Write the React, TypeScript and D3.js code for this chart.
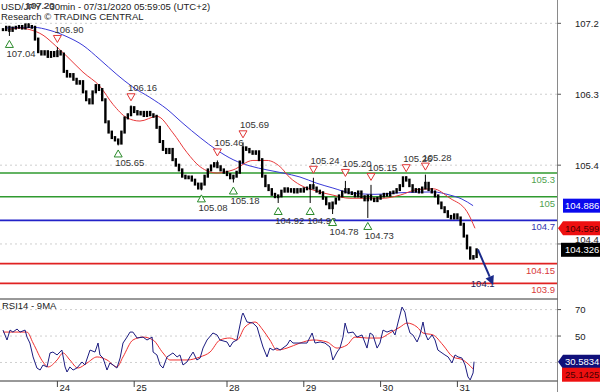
import React from "react";
import * as d3 from "d3";

// hourly closes (two 30min bars each)
const closes = [
  107.12, 107.15, 107.11, 107.14, 107.15, 107.16, 107.14, 107.18, 107.16, 107.15,
  107.0, 106.84, 106.81, 106.84, 106.78, 106.83, 106.79, 106.84, 106.81, 106.59,
  106.53, 106.55, 106.49, 106.44, 106.46, 106.33, 106.23, 106.19, 106.33, 106.41,
  106.36, 106.23, 105.95, 105.82, 105.75, 105.72, 105.68, 105.82, 106.0, 106.04,
  106.13, 106.08, 106.05, 106.07, 106.03, 106.07, 106.04, 106.02, 105.88, 105.7,
  105.6, 105.56, 105.6, 105.47, 105.4, 105.34, 105.26, 105.24, 105.25, 105.21,
  105.16, 105.11, 105.16, 105.26, 105.34, 105.39, 105.42, 105.38, 105.34, 105.31,
  105.28, 105.24, 105.26, 105.31, 105.44, 105.62, 105.6, 105.57, 105.55, 105.57,
  105.47, 105.26, 105.14, 105.09, 105.03, 105.0, 105.01, 105.07, 105.1, 105.07,
  105.09, 105.06, 105.09, 105.07, 105.1, 105.11, 105.14, 105.11, 105.07, 105.05,
  104.98, 104.91, 104.86, 104.92, 104.97, 105.01, 105.06, 105.09, 105.05, 105.04,
  105.01, 105.06, 105.0, 104.96, 105.01, 104.97, 104.95, 104.98, 105.01, 105.03,
  105.02, 105.05, 105.06, 105.09, 105.14, 105.24, 105.21, 105.14, 105.07, 105.09,
  105.06, 105.11, 105.17, 105.09, 105.06, 105.01, 104.92, 104.86, 104.81, 104.75,
  104.73, 104.77, 104.73, 104.65, 104.5, 104.35, 104.22, 104.24, 104.326,
];

// swing points: [bar, price, 1 = high / 0 = low]
const pivots = [
  [8, 107.2, 1], [2, 107.04, 0], [17, 106.9, 1], [36, 105.65, 0], [40, 106.16, 1],
  [62, 105.08, 0], [67, 105.46, 1], [72, 105.18, 0], [75, 105.69, 1], [86, 104.92, 0],
  [96, 104.92, 0], [97, 105.24, 1], [103, 104.78, 0], [107, 105.2, 1], [114, 104.73, 0],
  [115, 105.15, 1], [126, 105.26, 1], [132, 105.28, 1],
];

const maFast = [
  [1.6, 107.12], [5.3, 107.14], [8.4, 107.12], [12.5, 107.05], [16.3, 106.92], [20, 106.78],
  [25, 106.58], [30.3, 106.4], [34.4, 106.17], [38.8, 106.0], [42.8, 105.96], [48.1, 106.02],
  [53.1, 105.81], [57.5, 105.56], [61.6, 105.38], [66.9, 105.3], [71.9, 105.34], [78.1, 105.46],
  [82.5, 105.46], [86.6, 105.38], [89.7, 105.24], [92.8, 105.15], [98.1, 105.07], [103.1, 105.02],
  [108.4, 104.98], [118.75, 104.98], [124.1, 105.02], [129.4, 105.09], [134.4, 105.1],
  [139.7, 104.98], [145, 104.81], [147.5, 104.599],
];

const maSlow = [
  [0.6, 107.14], [9.4, 107.15], [14.7, 107.11], [20, 107.03], [25, 106.92], [30.3, 106.74],
  [35.6, 106.55], [40.6, 106.39], [45.9, 106.26], [51.25, 106.11], [56.25, 105.93], [61.6, 105.75],
  [66.9, 105.59], [71.9, 105.47], [77.2, 105.39], [82.5, 105.34], [87.5, 105.3], [92.8, 105.25],
  [98.1, 105.17], [103.1, 105.11], [108.4, 105.05], [116.25, 105.03], [124.1, 105.05],
  [134.4, 105.06], [139.7, 105.02], [143.4, 104.97], [146.9, 104.886],
];

const levelValues = [105.3, 105.0, 104.7, 104.15, 103.9];
const levelLabels = ["105.3", "105", "104.7", "104.15", "103.9"];
const levelKinds = ["res", "res", "pivot", "sup", "sup"];

const forecast = [[148.4, 104.33], [153.2, 103.88]];
const forecastLabel = "104.1";

const priceTicks = [107.2, 106.3, 105.4, 104.4];
const dayTicks = [17, 41, 70, 94, 118, 142];
const dayLabels = ["24", "25", "28", "29", "30", "31"];

const lastValues = [104.886, 104.599, 104.326]; // slow MA, fast MA, last price

const rsi = [
  [0, 54.5], [1.25, 47], [2.2, 54.5], [3.1, 53], [4.4, 55.3], [5.3, 53], [6.9, 54.5], [7.5, 49.2],
  [8.4, 44.7], [9.4, 34.2], [10.6, 25.8], [11.6, 24.3], [12.5, 28.1], [13.75, 26.6], [14.7, 37.2],
  [15.6, 37.9], [16.9, 35.7], [18.4, 39.4], [19.4, 26.6], [20, 22.8], [20.9, 26.6], [21.9, 24.3],
  [23.1, 25.8], [24.7, 30.4], [25.6, 28.1], [27.2, 39.4], [28.75, 37.9], [29.7, 44.7], [30.3, 35.7],
  [31.25, 33.4], [32.5, 24.3], [33.4, 29.6], [34.4, 28.1], [35.6, 25.8], [36.6, 33.4], [37.5, 44.7],
  [38.75, 49.2], [39.7, 53], [40.6, 53], [41.9, 48.5], [43.75, 49.2], [45, 47], [46.6, 49.2],
  [46.9, 37.9], [48.1, 35.7], [49.1, 28.1], [50, 25.8], [51.25, 34.2], [52.2, 35.7], [53.1, 37.2],
  [54.4, 34.2], [55.3, 35.7], [56.25, 28.1], [57.5, 30.4], [58.4, 34.2], [59.4, 37.9], [60.6, 31.9],
  [61.6, 33.4], [62.5, 40.9], [63.75, 47], [65.6, 52.3], [66.9, 50.8], [67.8, 47], [70, 45.5],
  [70.9, 41.7], [71.9, 45.5], [73.1, 47], [74.7, 65.8], [75, 67.4], [76.25, 60.6], [78.1, 59.8],
  [79.4, 56.8], [80.3, 49.2], [81.25, 41.7], [82.5, 34.2], [83.4, 40.9], [84.4, 39.4], [85.6, 40.9],
  [86.6, 39.4], [88.75, 43.2], [89.7, 47], [90.6, 44.7], [92.2, 44.7], [95, 44.7], [96.6, 52.3],
  [97.5, 44.7], [99.1, 45.5], [100.6, 44.7], [102.2, 41.7], [103.1, 31.9], [104.4, 37.9],
  [105.3, 40.9], [106.25, 49.2], [106.9, 59.8], [107.8, 52.3], [109.4, 53], [110.6, 49.2],
  [112.2, 50.8], [113.75, 40.9], [114.7, 52.3], [115.6, 50.8], [116.9, 40.9], [117.8, 44.7],
  [118.75, 54.5], [120, 53], [121.6, 54.5], [122.5, 50.8], [123.4, 59.8], [124.7, 71.9],
  [125.6, 68.1], [126.25, 59.8], [127.2, 52.3], [128.1, 50.8], [129.4, 45.5], [130.3, 50.8],
  [131.25, 60.6], [131.9, 52.3], [132.8, 47], [134.1, 50.8], [135, 47], [135.9, 39.4],
  [137.2, 37.2], [138.1, 35.7], [139.1, 34.2], [140.3, 29.6], [141.25, 35.7], [142.2, 34.2],
  [143.4, 33.4], [144.4, 28.1], [145.3, 19.1], [146, 16.8], [146.9, 22.1], [147.2, 30.5834],
];

const rsiMa = [
  [0, 53], [7.5, 53], [9.4, 44.7], [12.5, 30.4], [14.1, 26.6], [16.9, 31.9], [18.75, 37.2],
  [20.9, 31.9], [23.4, 25.8], [26.25, 29.6], [29.4, 34.2], [32.5, 31.9], [35.6, 26.6], [37.5, 34.2],
  [40.6, 47], [43.75, 49.2], [46.9, 47], [50, 37.2], [52.2, 31.9], [57.5, 31.9], [61.6, 34.2],
  [64.7, 37.9], [67.8, 47], [70.9, 48.5], [73.1, 47], [75.6, 56.8], [78.75, 60.6], [81.25, 54.5],
  [83.4, 47], [85.6, 39.4], [88.75, 40.9], [92.8, 44.7], [96.9, 47], [101.25, 45.5], [104.4, 40.9],
  [107.5, 43.2], [110, 49.2], [113.75, 48.5], [117.8, 48.5], [120.9, 52.3], [124.1, 56.8],
  [126.25, 59.8], [129.4, 56.8], [131.25, 52.3], [134.4, 50.8], [137.5, 43.2], [140.6, 34.2],
  [143.75, 31.9], [146.9, 25.1425],
];

const rsiTicks = [70, 50];
const rsiGrid = [70, 50, 30];
const rsiLast = [30.5834, 25.1425];

const FONT = "Liberation Sans, Arial, sans-serif";
const AXIS_X = 557.5;
const levelColor = { res: "#2f9a2f", pivot: "#2222c8", sup: "#e02222" };
const levelText = { res: "#4f9f4f", pivot: "#3535b0", sup: "#d83a3a" };

export default function App() {
  const x = d3.scaleLinear().domain([0, 148]).range([3, 476.6]);
  const y = d3.scaleLinear().domain([103.727, 107.496]).range([297, 0]);
  const yr = d3.scaleLinear().domain([16, 78]).range([381, 299]);

  const priceLine = d3.line<number[]>().x(d => x(d[0])).y(d => y(d[1])).curve(d3.curveMonotoneX);
  const rsiPath = d3.line<number[]>().x(d => x(d[0])).y(d => yr(d[1]));
  const rsiMaPath = d3.line<number[]>().x(d => x(d[0])).y(d => yr(d[1])).curve(d3.curveMonotoneX);

  // arrow geometry
  const [a0, a1] = forecast.map(d => [x(d[0]), y(d[1])]);
  const ang = Math.atan2(a1[1] - a0[1], a1[0] - a0[0]);
  const hl = 9, hw = 4.5;
  const bx = a1[0] - hl * Math.cos(ang), by = a1[1] - hl * Math.sin(ang);
  const head = [
    [a1[0], a1[1]],
    [bx + hw * Math.sin(ang), by - hw * Math.cos(ang)],
    [bx - hw * Math.sin(ang), by + hw * Math.cos(ang)],
  ];

  const badgeFill = ["#0a0aee", "#ee1010", "#000"];
  const badgeText = ["#fff", "#4a0000", "#fff"];

  // tick label pushed above a value badge when they collide
  const tickLabelY = (t: number) => {
    const ty = y(t) + 3.5;
    const hit = lastValues.map(v => y(v)).find(by => Math.abs(by - y(t)) < 10);
    return hit === undefined ? ty : Math.min(ty, hit - 7);
  };

  // RSI badges stacked so they don't overlap
  let prev = -100;
  const rsiBadgeY = rsiLast.map(v => {
    const yy = Math.max(yr(v), prev + 13);
    prev = yy;
    return yy;
  });

  return (
    <svg width={600} height={392} style={{ position: "absolute", left: 0, top: 0, background: "#fff" }}
      fontFamily={FONT}>
      <rect width={600} height={392} fill="#fff" />

      {/* grid */}
      {priceTicks.map(t => (
        <line key={t} x1={0} x2={AXIS_X} y1={y(t)} y2={y(t)} stroke="#cfcfcf" strokeDasharray="2,3" />
      ))}

      {/* levels */}
      {levelValues.map((v, i) => (
        <g key={v}>
          <line x1={0} x2={AXIS_X} y1={y(v)} y2={y(v)} stroke={levelColor[levelKinds[i]]} strokeWidth={1.6} />
          <text x={555} y={y(v) + 10} textAnchor="end" fontSize={9.5} fill={levelText[levelKinds[i]]}>
            {levelLabels[i]}
          </text>
        </g>
      ))}

      {/* moving averages */}
      <path d={priceLine(maSlow)} fill="none" stroke="#3a3ad8" strokeWidth={1} />
      <path d={priceLine(maFast)} fill="none" stroke="#e8383a" strokeWidth={1} />

      {/* candles */}
      {closes.map((c, i) => {
        const o = i === 0 ? c : closes[i - 1];
        const top = y(Math.max(o, c));
        const bot = y(Math.min(o, c));
        return <rect key={i} x={x(i) - 1.2} y={top - 1.5} width={2.4} height={bot - top + 3} fill="#000" />;
      })}
      {pivots.map(([i, v], k) => (
        <line key={k} x1={x(i)} x2={x(i)} y1={y(v)} y2={y(closes[i])} stroke="#000" strokeWidth={1} />
      ))}

      {/* pivots */}
      {pivots.map(([i, v, hi], k) => {
        const cx = x(i);
        const cy = hi ? y(v) - 8 : y(v) + 8;
        const pts = hi
          ? `${cx - 4},${cy - 3.5} ${cx + 4},${cy - 3.5} ${cx},${cy + 3.5}`
          : `${cx - 4},${cy + 3.5} ${cx + 4},${cy + 3.5} ${cx},${cy - 3.5}`;
        return (
          <g key={k}>
            <polygon points={pts} fill="#fff" stroke={hi ? "#e03535" : "#2a8a2a"} strokeWidth={1} />
            <text x={cx - 3} y={hi ? y(v) - 14 : y(v) + 21} fontSize={9.5} fill="#333">
              {v.toFixed(2)}
            </text>
          </g>
        );
      })}

      {/* title */}
      <rect x={0} y={11} width={128} height={11} fill="#fff" />
      <text x={1} y={10} fontSize={9.5} fill="#222">USD/JPY - 30min - 07/31/2020 05:59:05 (UTC+2)</text>
      <text x={1} y={20} fontSize={9.5} fill="#222">Research © TRADING CENTRAL</text>
      <text x={x(pivots[0][0]) - 3} y={y(pivots[0][1]) - 14} fontSize={9.5} fill="#555">
        {(pivots[0][1] as number).toFixed(2)}
      </text>

      {/* forecast arrow */}
      <text x={x(146.2)} y={y(levelValues[4]) + 4} fontSize={9.5} fill="#1c1c5a">{forecastLabel}</text>
      <line x1={a0[0]} y1={a0[1]} x2={bx} y2={by} stroke="#1a2a8a" strokeWidth={2} />
      <polygon points={head.map(p => p.join(",")).join(" ")} fill="#1a2a8a" />

      {/* right axis */}
      <line x1={AXIS_X} x2={AXIS_X} y1={0} y2={392} stroke="#8a8a8a" />
      {priceTicks.map(t => (
        <g key={t}>
          <line x1={AXIS_X} x2={561} y1={y(t)} y2={y(t)} stroke="#555" />
          <text x={575} y={tickLabelY(t)} fontSize={9.5} fill="#222">{t.toFixed(1)}</text>
        </g>
      ))}
      {lastValues.map((v, i) => {
        const cy = y(v);
        return (
          <g key={i}>
            {i === 1 ? (
              <polygon points={`${558},${cy} ${563},${cy - 7} ${600},${cy - 7} ${600},${cy + 7} ${563},${cy + 7}`}
                fill={badgeFill[i]} />
            ) : (
              <rect x={i === 0 ? 563 : 561} y={cy - 7} width={40} height={14} fill={badgeFill[i]} />
            )}
            <text x={565} y={cy + 3.5} fontSize={9.5} fill={badgeText[i]}>{v.toFixed(3)}</text>
          </g>
        );
      })}

      {/* RSI panel */}
      <line x1={0} x2={AXIS_X} y1={299} y2={299} stroke="#333" />
      <line x1={0} x2={AXIS_X} y1={381} y2={381} stroke="#333" />
      {rsiGrid.map(t => (
        <line key={t} x1={0} x2={AXIS_X} y1={yr(t)} y2={yr(t)} stroke="#cfcfcf" strokeDasharray="2,3" />
      ))}
      <text x={2} y={309} fontSize={9.5} fill="#222">RSI14 - 9MA</text>
      <path d={rsiMaPath(rsiMa)} fill="none" stroke="#f03030" strokeWidth={1} />
      <path d={rsiPath(rsi)} fill="none" stroke="#1c1c80" strokeWidth={1} />
      {rsiTicks.map(t => (
        <g key={t}>
          <line x1={AXIS_X} x2={561} y1={yr(t)} y2={yr(t)} stroke="#555" />
          <text x={575} y={yr(t) + 3.5} fontSize={9.5} fill="#222">{t}</text>
        </g>
      ))}
      {rsiLast.map((v, i) => {
        const cy = rsiBadgeY[i];
        return (
          <g key={i}>
            {i === 0 ? (
              <polygon points={`${558},${cy} ${563},${cy - 7} ${600},${cy - 7} ${600},${cy + 7} ${563},${cy + 7}`}
                fill="#10107a" />
            ) : (
              <rect x={562} y={cy - 7} width={40} height={14} fill="#ee1010" />
            )}
            <text x={565} y={cy + 3.5} fontSize={9.5} fill={i === 0 ? "#fff" : "#4a0000"}>{v.toFixed(4)}</text>
          </g>
        );
      })}

      {/* date axis */}
      {dayTicks.map((d, i) => (
        <g key={d}>
          <line x1={x(d)} x2={x(d)} y1={381} y2={387} stroke="#444" />
          <text x={x(d) + 2} y={391} fontSize={9.5} fill="#222">{dayLabels[i]}</text>
        </g>
      ))}
    </svg>
  );
}
